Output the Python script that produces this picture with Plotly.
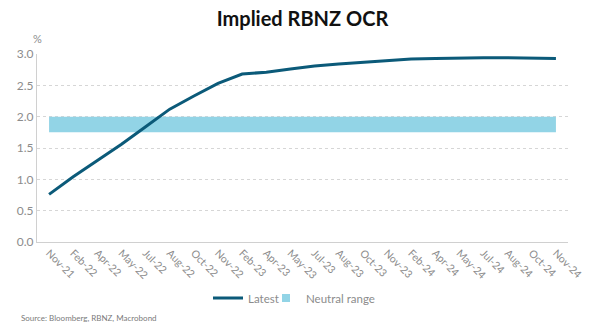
import plotly.graph_objects as go

# RBNZ meeting months
months = ["Nov-21", "Feb-22", "Apr-22", "May-22", "Jul-22", "Aug-22", "Oct-22",
          "Nov-22", "Feb-23", "Apr-23", "May-23", "Jul-23", "Aug-23", "Oct-23",
          "Nov-23", "Feb-24", "Apr-24", "May-24", "Jul-24", "Aug-24", "Oct-24",
          "Nov-24"]

# Market-implied OCR, %
latest = [0.76, 1.04, 1.30, 1.56, 1.84, 2.12, 2.33, 2.53, 2.68, 2.71, 2.76,
          2.81, 2.84, 2.87, 2.90, 2.92, 2.93, 2.94, 2.94, 2.94, 2.94, 2.93]

# Neutral OCR range, %
neutral_low = 1.75
neutral_high = 2.0

LINE = "#0b5a79"
BAND = "#92d4e6"
GREY = "#8c8c8c"
FONT = "Lato"

PLOT_LEFT, PLOT_RIGHT = 37, 568
PLOT_TOP, PLOT_BOTTOM = 54, 242
PLOT_W = PLOT_RIGHT - PLOT_LEFT
PLOT_H = PLOT_BOTTOM - PLOT_TOP


def paper_x(px):
    return (px - PLOT_LEFT) / PLOT_W


def paper_y(px):
    return (PLOT_BOTTOM - px) / PLOT_H


fig = go.Figure()

fig.add_trace(go.Scatter(
    x=months, y=[neutral_low] * len(months), mode="lines",
    line=dict(width=0, color=BAND), showlegend=False, hoverinfo="skip",
))
fig.add_trace(go.Scatter(
    x=months, y=[neutral_high] * len(months), mode="lines",
    line=dict(width=0, color=BAND), fill="tonexty", fillcolor=BAND,
    showlegend=False, hoverinfo="skip",
))
fig.add_trace(go.Scatter(
    x=months, y=latest, mode="lines", name="Latest",
    line=dict(color=LINE, width=3), legend="legend",
))
# legend entry for the band
fig.add_trace(go.Scatter(
    x=[None], y=[None], mode="markers", name="Neutral range",
    marker=dict(symbol="square", size=8, color=BAND), legend="legend2",
))

legend_common = dict(
    orientation="h", yref="container", y=1 - 298 / 336, yanchor="middle",
    font=dict(family=FONT, size=11.5, color=GREY), itemwidth=30,
    bgcolor="rgba(0,0,0,0)",
)

fig.update_layout(
    width=600, height=336,
    margin=dict(l=PLOT_LEFT, r=600 - PLOT_RIGHT, t=PLOT_TOP,
                b=336 - PLOT_BOTTOM, autoexpand=False),
    paper_bgcolor="white", plot_bgcolor="white",
    font=dict(family=FONT, color=GREY, size=11),
    title=dict(text="<b>Implied RBNZ OCR</b>", x=0.5, xanchor="center",
               xref="paper", y=1 - 19 / 336, yanchor="middle",
               font=dict(family=FONT, size=20, color="#111111")),
    showlegend=True,
    legend=dict(x=paper_x(284), xanchor="right", **legend_common),
    legend2=dict(x=paper_x(266), xanchor="left", **legend_common),
    xaxis=dict(
        type="category", range=[-0.5, len(months) - 0.5],
        tickangle=45, tickfont=dict(family=FONT, size=10.5, color=GREY),
        showgrid=False, showline=True, linecolor="#d0d0d0", linewidth=1,
        ticks="", automargin=False,
    ),
    yaxis=dict(
        range=[0, 3.0], dtick=0.5, tickformat=".1f",
        tickfont=dict(family=FONT, size=12, color=GREY),
        showgrid=True, gridcolor="#d6d6d6", griddash="dot", gridwidth=1,
        showline=True, linecolor="#d0d0d0", linewidth=1,
        zeroline=False, ticks="", automargin=False,
    ),
    annotations=[
        dict(text="%", xref="paper", yref="paper", x=0, y=paper_y(38),
             xanchor="center", yanchor="middle", showarrow=False,
             font=dict(family=FONT, size=11, color=GREY)),
        dict(text="Source: Bloomberg, RBNZ, Macrobond", xref="paper",
             yref="paper", x=paper_x(19), y=paper_y(318), xanchor="left",
             yanchor="middle", showarrow=False,
             font=dict(family=FONT, size=8, color="#7a7a7a")),
    ],
)

fig.write_html("out.html")
